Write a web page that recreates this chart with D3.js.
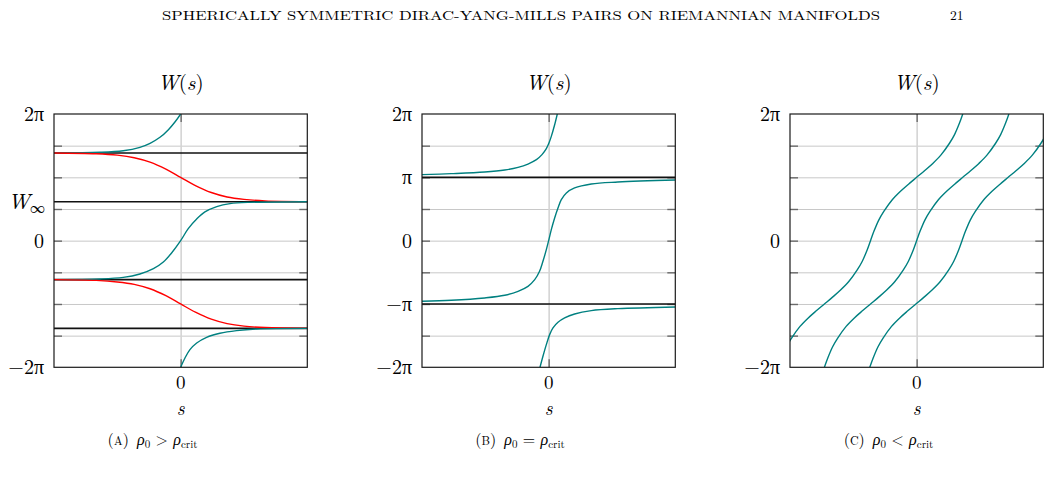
<!DOCTYPE html>
<html><head><meta charset="utf-8">
<script src="https://cdn.jsdelivr.net/npm/d3@7"></script>
<style>
body{margin:0;background:#fff;}
svg{display:block;}
text{font-family:"Latin Modern Roman","CMU Serif","Liberation Serif","DejaVu Serif",serif;fill:#000;}
</style></head><body>
<svg id="chart" width="1051" height="478"></svg>
<script>
// ---------- data (W values in units of π, s in arbitrary units, s=0 at centre) ----------
const headerText = "SPHERICALLY SYMMETRIC DIRAC-YANG-MILLS PAIRS ON RIEMANNIAN MANIFOLDS";
const pageNumber = "21";
const panelLetters = ["A", "B", "C"];
const panelRelations = [">", "=", "<"];
const gridValues = [-1.5, -1, -0.5, 0, 0.5, 1, 1.5];
const Winf = 0.615;
const tickValuesA = [2, Winf, 0, -2];
const tickLabelsA = ["2π", "W∞", "0", "−2π"];
const tickValuesB = [2, 1, 0, -1, -2];
const tickLabelsB = ["2π", "π", "0", "−π", "−2π"];
const tickValuesC = [2, 0, -2];
const tickLabelsC = ["2π", "0", "−2π"];
const refLinesA = [1.385, 0.615, -0.615, -1.385];
const refLinesB = [1, -1];

// Panel A (ρ0 > ρcrit)
const tealA1 = [[-6,1.385],[-3.82,1.395],[-2.72,1.42],[-1.93,1.474],[-1.45,1.537],[-0.98,1.632],[-0.58,1.753],[-0.27,1.874],[0,2.0]];
const tealA2 = [[-6,-0.615],[-3.82,-0.605],[-2.72,-0.58],[-1.93,-0.526],[-1.29,-0.442],[-0.82,-0.337],[-0.43,-0.195],[0,0],[0.36,0.19],[0.76,0.342],[1.15,0.453],[1.71,0.537],[2.34,0.584],[3.28,0.605],[6,0.615]];
const tealA3 = [[0,-2],[0.205,-1.853],[0.44,-1.721],[0.76,-1.616],[1.23,-1.526],[1.86,-1.463],[2.65,-1.421],[3.6,-1.395],[6,-1.385]];
const redA1 = [[-6,1.384],[-4,1.372],[-3,1.35],[-2.2,1.31],[-1.45,1.24],[-0.7,1.13],[0,1.0],[0.7,0.87],[1.45,0.76],[2.2,0.69],[3,0.652],[4,0.628],[6,0.616]];
const redA2 = [[-6,-0.616],[-4,-0.628],[-3,-0.652],[-2.2,-0.69],[-1.45,-0.76],[-0.7,-0.87],[0,-1.0],[0.7,-1.13],[1.45,-1.24],[2.2,-1.31],[3,-1.35],[4,-1.372],[6,-1.384]];

// Panel B (ρ0 = ρcrit)
const tealB1 = [[-6,1.042],[-4.61,1.058],[-3.03,1.084],[-2.08,1.116],[-1.45,1.158],[-0.98,1.21],[-0.58,1.279],[-0.316,1.358],[-0.11,1.453],[0,1.53],[0.126,1.647],[0.284,1.83],[0.41,2.0]];
const tealB2 = [[-6,-0.958],[-4.61,-0.942],[-3.03,-0.905],[-2.08,-0.863],[-1.45,-0.8],[-0.98,-0.721],[-0.66,-0.616],[-0.43,-0.484],[-0.27,-0.326],[-0.11,-0.142],[0,0],[0.126,0.174],[0.284,0.358],[0.442,0.516],[0.6,0.647],[0.84,0.753],[1.23,0.832],[2.02,0.895],[3.28,0.926],[6,0.958]];
const tealB3 = [[-0.41,-2.0],[-0.27,-1.826],[-0.11,-1.642],[0.047,-1.484],[0.205,-1.379],[0.442,-1.29],[0.758,-1.221],[1.23,-1.158],[2.02,-1.105],[3.28,-1.074],[6,-1.047]];

// Panel C (ρ0 < ρcrit)
const tealC1 = [[-6.165,-1.675],[-5.925,-1.538],[-5.525,-1.354],[-5.135,-1.22],[-4.755,-1.108],[-4.37,-1.0],[-3.985,-0.892],[-3.605,-0.78],[-3.215,-0.646],[-2.815,-0.462],[-2.575,-0.325],[-2.345,-0.147],[-2.185,0],[-2.025,0.147],[-1.795,0.325],[-1.555,0.462],[-1.155,0.646],[-0.765,0.78],[-0.385,0.892],[0,1.0],[0.385,1.108],[0.765,1.22],[1.155,1.354],[1.555,1.538],[1.795,1.675],[2.025,1.853],[2.185,2.0]];
const tealC2 = [[-4.37,-2.0],[-4.21,-1.853],[-3.98,-1.675],[-3.74,-1.538],[-3.34,-1.354],[-2.95,-1.22],[-2.57,-1.108],[-2.185,-1.0],[-1.8,-0.892],[-1.42,-0.78],[-1.03,-0.646],[-0.63,-0.462],[-0.39,-0.325],[-0.16,-0.147],[0,0],[0.16,0.147],[0.39,0.325],[0.63,0.462],[1.03,0.646],[1.42,0.78],[1.8,0.892],[2.185,1.0],[2.57,1.108],[2.95,1.22],[3.34,1.354],[3.74,1.538],[3.98,1.675],[4.21,1.853],[4.37,2.0]];
const tealC3 = [[-2.22,-2.0],[-2.06,-1.853],[-1.83,-1.675],[-1.59,-1.538],[-1.19,-1.354],[-0.8,-1.22],[-0.42,-1.108],[-0.035,-1.0],[0.35,-0.892],[0.73,-0.78],[1.12,-0.646],[1.52,-0.462],[1.76,-0.325],[1.99,-0.147],[2.15,0],[2.31,0.147],[2.54,0.325],[2.78,0.462],[3.18,0.646],[3.57,0.78],[3.95,0.892],[4.335,1.0],[4.72,1.108],[5.1,1.22],[5.49,1.354],[5.89,1.538],[6.13,1.675]];

const TEAL = "#008080", RED = "#ff0000";
const panels = [
  {left: 54, ticks: tickValuesA, labels: tickLabelsA, refs: refLinesA, capCenter: 152.5,
   curves: [[tealA1, TEAL], [redA1, RED], [tealA2, TEAL], [redA2, RED], [tealA3, TEAL]]},
  {left: 422, ticks: tickValuesB, labels: tickLabelsB, refs: refLinesB, capCenter: 520,
   curves: [[tealB1, TEAL], [tealB2, TEAL], [tealB3, TEAL]]},
  {left: 790, ticks: tickValuesC, labels: tickLabelsC, refs: [], capCenter: 888.5,
   curves: [[tealC1, TEAL], [tealC2, TEAL], [tealC3, TEAL]]}
];

// ---------- drawing ----------
const svg = d3.select("#chart");
const W = 253.3, TOP = 114, BOT = 367.3, H = BOT - TOP;

svg.append("text").attr("x", 162).attr("y", 20).attr("font-size", 13)
  .attr("textLength", 718).attr("lengthAdjust", "spacingAndGlyphs").text(headerText);
svg.append("text").attr("x", 950).attr("y", 20).attr("font-size", 13.5).text(pageNumber);

panels.forEach((p, i) => {
  const x = d3.scaleLinear().domain([-6, 6]).range([p.left, p.left + W]);
  const y = d3.scaleLinear().domain([-2, 2]).range([BOT, TOP]);
  const g = svg.append("g");
  const cx = x(0);

  const clipId = "clip" + i;
  svg.append("clipPath").attr("id", clipId).append("rect")
    .attr("x", p.left).attr("y", TOP).attr("width", W).attr("height", H);

  // grid
  g.append("g").attr("transform", `translate(${p.left},0)`)
    .call(d3.axisLeft(y).tickValues(gridValues).tickSize(-W).tickFormat(""))
    .call(a => a.select(".domain").remove())
    .call(a => a.selectAll("line").attr("stroke", "#c8c8c8").attr("stroke-width", 1));
  g.append("g").attr("transform", `translate(0,${BOT})`)
    .call(d3.axisBottom(x).tickValues([0]).tickSize(-H).tickFormat(""))
    .call(a => a.select(".domain").remove())
    .call(a => a.selectAll("line").attr("stroke", "#d4d4d4").attr("stroke-width", 1.6));

  // tick marks (inside, both sides)
  const tickStyle = a => { a.select(".domain").remove(); a.selectAll("line").attr("stroke", "#6a6a6a").attr("stroke-width", 1.4); };
  g.append("g").attr("transform", `translate(${p.left},0)`)
    .call(d3.axisLeft(y).tickValues(gridValues).tickSize(-8).tickFormat("")).call(tickStyle);
  g.append("g").attr("transform", `translate(${p.left + W},0)`)
    .call(d3.axisRight(y).tickValues(gridValues).tickSize(-8).tickFormat("")).call(tickStyle);
  g.append("g").attr("transform", `translate(0,${BOT})`)
    .call(d3.axisBottom(x).tickValues([0]).tickSize(-8).tickFormat("")).call(tickStyle);
  g.append("g").attr("transform", `translate(0,${TOP})`)
    .call(d3.axisTop(x).tickValues([0]).tickSize(-8).tickFormat("")).call(tickStyle);

  // reference lines
  g.selectAll(".ref").data(p.refs).enter().append("line")
    .attr("x1", p.left).attr("x2", p.left + W)
    .attr("y1", d => y(d)).attr("y2", d => y(d))
    .attr("stroke", "#111").attr("stroke-width", 1.6);

  // curves
  const line = d3.line().x(d => x(d[0])).y(d => y(d[1])).curve(d3.curveCatmullRom.alpha(0.5));
  const cg = g.append("g").attr("clip-path", `url(#${clipId})`);
  p.curves.forEach(([data, col]) => {
    cg.append("path").attr("d", line(data)).attr("fill", "none")
      .attr("stroke", col).attr("stroke-width", 1.4);
  });

  // frame
  g.append("rect").attr("x", p.left).attr("y", TOP).attr("width", W).attr("height", H)
    .attr("fill", "none").attr("stroke", "#1a1a1a").attr("stroke-width", 1.2);

  // y tick labels
  p.ticks.forEach((v, k) => {
    const lab = p.labels[k];
    const t = g.append("text").attr("x", p.left - 10).attr("y", y(v) + 7)
      .attr("text-anchor", "end").attr("font-size", 20);
    if (lab === "W∞") {
      t.attr("x", p.left - 9);
      t.append("tspan").attr("font-style", "italic").attr("font-size", 22).text("W");
      t.append("tspan").attr("font-size", 15).attr("dy", 4).text("∞");
    } else {
      t.text(lab);
    }
  });

  // x tick label, axis label, title
  g.append("text").attr("x", cx).attr("y", 389).attr("text-anchor", "middle").attr("font-size", 19).text("0");
  g.append("text").attr("x", cx).attr("y", 415).attr("text-anchor", "middle").attr("font-size", 19)
    .attr("font-style", "italic").text("s");
  const tt = g.append("text").attr("x", cx).attr("y", 90).attr("text-anchor", "middle").attr("font-size", 21)
    .attr("textLength", 46).attr("lengthAdjust", "spacing");
  tt.append("tspan").attr("font-style", "italic").text("W");
  tt.append("tspan").text("(");
  tt.append("tspan").attr("font-style", "italic").text("s");
  tt.append("tspan").text(")");

  // caption
  const cap = g.append("text").attr("y", 445).attr("font-size", 16);
  cap.append("tspan").text("(");
  cap.append("tspan").attr("font-size", 12).text(panelLetters[i]);
  cap.append("tspan").text(")\u2002");
  cap.append("tspan").attr("font-style", "italic").text("ρ");
  cap.append("tspan").attr("font-size", 11).attr("dy", 3).text("0");
  cap.append("tspan").attr("dy", -3).text(" " + panelRelations[i] + " ");
  cap.append("tspan").attr("font-style", "italic").text("ρ");
  cap.append("tspan").attr("font-size", 11).attr("dy", 3).text("crit");
  const bb = cap.node().getBBox();
  cap.attr("x", p.capCenter - bb.width / 2);
});
</script>
</body></html>
